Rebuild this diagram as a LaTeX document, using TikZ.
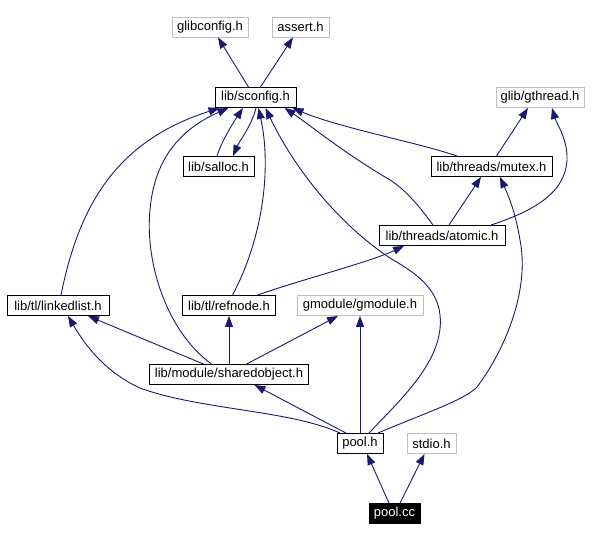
\documentclass[tikz,border=0pt]{standalone}
\usepackage{fontspec}
\setmainfont{Liberation Sans}
\usetikzlibrary{arrows.meta}
\definecolor{edgeblue}{RGB}{25,25,112}
\definecolor{boxgray}{RGB}{191,191,191}
\tikzset{
  filebox/.style={draw=black, fill=white, line width=0.9pt, minimum height=20pt, inner sep=0pt,
    font=\fontsize{13}{15}\selectfont, anchor=center},
  extbox/.style={filebox, draw=boxgray},
  mainbox/.style={filebox, fill=black, text=white},
  dep/.style={draw=edgeblue, line width=0.9pt, -{Triangle[length=11pt,width=8pt]}}
}
\begin{document}
\begin{tikzpicture}[x=1pt,y=-1pt]
\useasboundingbox (0,0) rectangle (606,540);
% nodes
\node[extbox, minimum width=76pt] (glibconfig) at (210,27) {glibconfig.h};
\node[extbox, minimum width=57pt] (assert) at (300.5,27) {assert.h};
\node[filebox, minimum width=81pt] (sconfig) at (255.5,97.5) {lib/sconfig.h};
\node[extbox, minimum width=88pt] (gthread) at (540,97.5) {glib/gthread.h};
\node[filebox, minimum width=71pt] (salloc) at (218.5,166.5) {lib/salloc.h};
\node[filebox, minimum width=121pt] (mutex) at (491.5,166.5) {lib/threads/mutex.h};
\node[filebox, minimum width=126pt] (atomic) at (442,235.5) {lib/threads/atomic.h};
\node[filebox, minimum width=102pt] (linkedlist) at (58,305.5) {lib/tl/linkedlist.h};
\node[filebox, minimum width=93pt] (refnode) at (229,305.5) {lib/tl/refnode.h};
\node[extbox, minimum width=126pt] (gmodule) at (360,305.5) {gmodule/gmodule.h};
\node[filebox, minimum width=159pt] (sharedobject) at (229,374.5) {lib/module/sharedobject.h};
\node[filebox, minimum width=46pt] (poolh) at (360,443.5) {pool.h};
\node[extbox, minimum width=49pt] (stdio) at (431.5,443.5) {stdio.h};
\node[mainbox, minimum width=51pt] (poolcc) at (394.5,513.5) {pool.cc};
% edges
\draw[dep] ([xshift=-7pt]sconfig.north) -- ([xshift=8pt]glibconfig.south);
\draw[dep] ([xshift=5pt]sconfig.north) -- ([xshift=-7.5pt]assert.south);
\draw[dep] ([xshift=-1.5pt]salloc.north) .. controls (222,140) and (235,120) .. ([xshift=-12.5pt]sconfig.south);
\draw[dep] ([xshift=0.5pt]sconfig.south) .. controls (252,125) and (240,140) .. ([xshift=14.5pt]salloc.north);
\draw[dep] ([xshift=-34.5pt]mutex.north) .. controls (420,143) and (340,128) .. ([xshift=37pt]sconfig.south);
\draw[dep] ([xshift=5pt]mutex.north) -- ([xshift=-12pt]gthread.south);
\draw[dep] ([xshift=-9pt]atomic.north) .. controls (415,200) and (400,185) .. (385,177) .. controls (340,150) and (310,125) .. ([xshift=29pt]sconfig.south);
\draw[dep] ([xshift=7pt]atomic.north) -- ([xshift=-10.5pt]mutex.south);
\draw[dep] ([xshift=49pt]atomic.north) .. controls (530,212) and (565,195) .. (567,160) .. controls (568,140) and (556,122) .. ([xshift=12pt]gthread.south);
\draw[dep] ([xshift=3pt]linkedlist.north) .. controls (80,200) and (120,140) .. ([xshift=-36pt]sconfig.south);
\draw[dep] ([xshift=-17.5pt]sharedobject.north) .. controls (165,330) and (145,260) .. (150,210) .. controls (155,150) and (190,125) .. ([xshift=-27pt]sconfig.south);
\draw[dep] ([xshift=3.5pt]refnode.north) .. controls (262,240) and (272,170) .. ([xshift=3pt]sconfig.south);
\draw[dep] ([xshift=28.5pt]refnode.north) .. controls (300,280) and (370,262) .. ([xshift=-38pt]atomic.south);
\draw[dep] ([xshift=-25.5pt]sharedobject.north) -- ([xshift=30pt]linkedlist.south);
\draw[dep] (sharedobject.north) -- (refnode.south);
\draw[dep] ([xshift=17.5pt]sharedobject.north) -- ([xshift=-22pt]gmodule.south);
\draw[dep] ([xshift=9pt]poolh.north) .. controls (400,400) and (445,360) .. (440,315) .. controls (437,285) and (410,270) .. (390,258) .. controls (340,225) and (295,170) .. ([xshift=10pt]sconfig.south);
\draw[dep] ([xshift=-20pt]poolh.north) .. controls (290,410) and (200,410) .. (140,388) .. controls (105,372) and (85,345) .. ([xshift=10pt]linkedlist.south);
\draw[dep] ([xshift=-14pt]poolh.north) -- ([xshift=25.5pt]sharedobject.south);
\draw[dep] (poolh.north) -- (gmodule.south);
\draw[dep] ([xshift=18pt]poolh.north) .. controls (420,415) and (465,400) .. (477,387) .. controls (505,350) and (530,290) .. (520,240) .. controls (515,210) and (508,195) .. ([xshift=8.5pt]mutex.south);
\draw[dep] ([xshift=-5.5pt]poolcc.north) -- ([xshift=7pt]poolh.south);
\draw[dep] ([xshift=5.5pt]poolcc.north) -- ([xshift=-7pt]stdio.south);
\end{tikzpicture}
\end{document}
